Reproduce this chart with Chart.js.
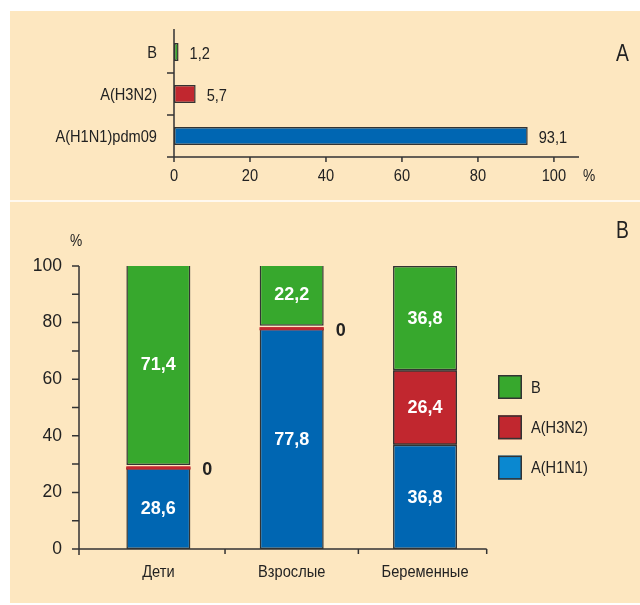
<!DOCTYPE html>
<html>
<head>
<meta charset="utf-8">
<script src="https://cdn.jsdelivr.net/npm/chart.js@4.4.0/dist/chart.umd.min.js"></script>
<style>
  html, body { margin: 0; padding: 0; background: #ffffff; }
  body { width: 640px; height: 605px; position: relative; overflow: hidden;
         font-family: 'Liberation Sans', Arial, sans-serif; color: #222; }
  #panel { position: absolute; left: 10px; top: 11px; width: 630px; height: 592px; background: #fde7c0; }
  #sep { position: absolute; left: 10px; top: 200px; width: 630px; height: 2px; background: #fff9f0; }
  canvas { position: absolute; }
  #topChart { left: 10px; top: 11px; }
  #bottomChart { left: 10px; top: 202px; }
  .tag { position: absolute; font-size: 23px; line-height: 23px; color: #222;
         transform: scaleX(0.84); transform-origin: left top; }
  .pct { position: absolute; font-size: 16px; line-height: 16px; color: #222;
         transform: scaleX(0.86); transform-origin: left top; }
</style>
</head>
<body>
<div id="panel"></div>
<div id="sep"></div>
<canvas id="topChart" width="630" height="189"></canvas>
<canvas id="bottomChart" width="630" height="401"></canvas>
<div class="tag" style="left:616px; top:42px;">A</div>
<div class="tag" style="left:616px; top:219px;">B</div>
<div class="pct" style="left:583px; top:168px;">%</div>
<div class="pct" style="left:70px; top:233px;">%</div>

<script>
// Panel A: share of each influenza subtype, %
const subtypeLabels = ['B', 'A(H3N2)', 'A(H1N1)pdm09'];
const subtypeShares = [1.2, 5.7, 93.1];

// Panel B: subtype share by patient group, %
const groupLabels = ['Дети', 'Взрослые', 'Беременные'];
const h1n1Shares = [28.6, 77.8, 36.8];
const h3n2Shares = [0, 0, 26.4];
const bShares = [71.4, 22.2, 36.8];
const legendNames = ['A(H1N1)', 'A(H3N2)', 'B'];

const GREEN = '#37a82d';
const RED = '#c1272f';
const BLUE = '#0066b2';
const LEGEND_BLUE = '#0a88d0';
const INK = '#222222';
const EDGE = '#333333';

const SANS = "'Liberation Sans', Arial, sans-serif";
const NARROW_X = 0.86;   // horizontal squeeze for the condensed captions

Chart.defaults.animation = false;
Chart.defaults.devicePixelRatio = 1;
Chart.defaults.color = INK;

const fmt = v => (v === 0 ? '0' : v.toFixed(1).replace('.', ','));

// condensed caption: regular face squeezed horizontally
function narrowText(ctx, text, x, y, align, size) {
  ctx.save();
  ctx.font = size + 'px ' + SANS;
  ctx.fillStyle = INK;
  ctx.textAlign = align;
  ctx.textBaseline = 'middle';
  ctx.translate(x, y);
  ctx.scale(NARROW_X, 1);
  ctx.fillText(text, 0, 0);
  ctx.restore();
}

// ---- Panel A: horizontal bars ----
const topAxes = {
  id: 'topAxes',
  afterDatasetsDraw(chart) {
    const { ctx, chartArea: ca, scales } = chart;
    const y = scales.y, x = scales.x;
    ctx.save();
    ctx.strokeStyle = EDGE;
    ctx.lineWidth = 1.5;
    ctx.beginPath();
    ctx.moveTo(ca.left, ca.top - 2);
    ctx.lineTo(ca.left, ca.bottom);
    for (let i = 0; i < y.ticks.length - 1; i++) {
      const yy = (y.getPixelForTick(i) + y.getPixelForTick(i + 1)) / 2;
      ctx.moveTo(ca.left - 7, yy);
      ctx.lineTo(ca.left, yy);
    }
    ctx.moveTo(ca.left - 7, ca.bottom);
    ctx.lineTo(ca.right, ca.bottom);
    x.ticks.forEach(t => {
      const xx = x.getPixelForValue(t.value);
      ctx.moveTo(xx, ca.bottom);
      ctx.lineTo(xx, ca.bottom + 5);
    });
    ctx.stroke();
    ctx.restore();

    // category captions
    chart.data.labels.forEach((lab, i) => {
      narrowText(ctx, lab, ca.left - 17, y.getPixelForTick(i) + 1, 'right', 17);
    });
    // percent scale captions
    x.ticks.forEach(t => {
      narrowText(ctx, String(t.value), x.getPixelForValue(t.value), ca.bottom + 19, 'center', 17);
    });
    // value labels beside the bars
    const meta = chart.getDatasetMeta(0);
    meta.data.forEach((bar, i) => {
      narrowText(ctx, fmt(chart.data.datasets[0].data[i]), bar.x + 11, bar.y + 2, 'left', 17);
    });
  }
};

new Chart(document.getElementById('topChart'), {
  type: 'bar',
  data: {
    labels: subtypeLabels,
    datasets: [{
      data: subtypeShares,
      backgroundColor: [GREEN, RED, BLUE],
      borderColor: EDGE,
      borderWidth: 1.5,
      borderSkipped: false,
      barPercentage: 0.43,
      categoryPercentage: 1
    }]
  },
  options: {
    indexAxis: 'y',
    responsive: false,
    layout: { padding: { left: 0, top: 20, right: 61, bottom: 0 } },
    plugins: { legend: { display: false }, tooltip: { enabled: false } },
    scales: {
      x: {
        type: 'linear',
        min: 0,
        max: 106.6,
        grid: { display: false, drawTicks: false },
        border: { display: false },
        ticks: { display: false, stepSize: 20, includeBounds: false },
        afterFit(scale) { scale.height = 43; }
      },
      y: {
        grid: { display: false, drawTicks: false },
        border: { display: false },
        ticks: { display: false },
        afterFit(scale) { scale.width = 164; }
      }
    }
  },
  plugins: [topAxes]
});

// ---- Panel B: stacked columns ----
const bottomAxes = {
  id: 'bottomAxes',
  afterDatasetsDraw(chart) {
    const { ctx, chartArea: ca, scales } = chart;
    const y = scales.y, x = scales.x;
    const ax = ca.left - 12.7;

    // zero-valued A(H3N2) segments are drawn last so the thin line stays visible
    chart.getDatasetMeta(1).data.forEach(el => el.draw(ctx));

    ctx.save();
    ctx.strokeStyle = EDGE;
    ctx.lineWidth = 1.5;
    ctx.beginPath();
    ctx.moveTo(ax, y.getPixelForValue(100));
    ctx.lineTo(ax, ca.bottom + 6);
    for (let v = 0; v <= 100; v += 10) {
      const yy = y.getPixelForValue(v);
      ctx.moveTo(ax - 7, yy);
      ctx.lineTo(ax, yy);
    }
    const xEnd = ca.right - 5;
    ctx.moveTo(ax - 7, ca.bottom);
    ctx.lineTo(xEnd, ca.bottom);
    for (let i = 0; i < x.ticks.length - 1; i++) {
      const xx = (x.getPixelForTick(i) + x.getPixelForTick(i + 1)) / 2;
      ctx.moveTo(xx, ca.bottom);
      ctx.lineTo(xx, ca.bottom + 5);
    }
    ctx.moveTo(xEnd, ca.bottom);
    ctx.lineTo(xEnd, ca.bottom + 5);
    ctx.stroke();

    // segment values
    ctx.font = 'bold 18px ' + SANS;
    ctx.textBaseline = 'middle';
    chart.data.datasets.forEach((ds, di) => {
      chart.getDatasetMeta(di).data.forEach((bar, i) => {
        const v = ds.data[i];
        const cy = (bar.y + bar.base) / 2;
        if (v === 0) {
          ctx.fillStyle = INK;
          ctx.textAlign = 'left';
          ctx.fillText(fmt(v), bar.x + bar.width / 2 + 12, cy + 2);
        } else {
          ctx.fillStyle = '#ffffff';
          ctx.textAlign = 'center';
          ctx.fillText(fmt(v), bar.x, cy + 1);
        }
      });
    });

    // legend, top entry is the top segment
    const items = chart.data.datasets
      .map((ds, i) => ({ name: legendNames[i], color: ds.legendColor || ds.backgroundColor }))
      .reverse();
    items.forEach((it, k) => {
      const bx = 488, by = 173 + k * 40.3;
      ctx.fillStyle = it.color;
      ctx.fillRect(bx, by, 24, 24);
      ctx.strokeStyle = EDGE;
      ctx.lineWidth = 1.5;
      ctx.strokeRect(bx + 0.75, by + 0.75, 22.5, 22.5);
      narrowText(ctx, it.name, bx + 33, by + 13, 'left', 17);
    });
    ctx.restore();

    // group captions under the columns
    chart.data.labels.forEach((lab, i) => {
      narrowText(ctx, lab, x.getPixelForTick(i), ca.bottom + 23, 'center', 17);
    });
  }
};

new Chart(document.getElementById('bottomChart'), {
  type: 'bar',
  data: {
    labels: groupLabels,
    datasets: [
      { label: legendNames[0], data: h1n1Shares, backgroundColor: BLUE, legendColor: LEGEND_BLUE,
        borderColor: EDGE, borderWidth: 1.5, borderSkipped: false },
      { label: legendNames[1], data: h3n2Shares, backgroundColor: RED,
        borderColor: EDGE, borderWidth: c => (c.raw === 0 ? 0 : 1.5), borderSkipped: false, minBarLength: 3 },
      { label: legendNames[2], data: bShares, backgroundColor: GREEN,
        borderColor: EDGE, borderWidth: 1.5, borderSkipped: false }
    ]
  },
  options: {
    responsive: false,
    datasets: { bar: { barPercentage: 0.48, categoryPercentage: 1 } },
    layout: { padding: { left: 0, top: 64, right: 148.3, bottom: 0 } },
    plugins: { legend: { display: false }, tooltip: { enabled: false } },
    scales: {
      x: {
        stacked: true,
        grid: { display: false, drawTicks: false },
        border: { display: false },
        ticks: { display: false },
        afterFit(scale) { scale.height = 54; }
      },
      y: {
        stacked: true,
        min: 0,
        max: 100,
        grid: { display: false, drawTicks: false },
        border: { display: false },
        ticks: { stepSize: 20, padding: 29.7, font: { family: SANS, size: 17.5 }, color: INK },
        afterFit(scale) { scale.width = 81.7; }
      }
    }
  },
  plugins: [bottomAxes]
});
</script>
</body>
</html>
